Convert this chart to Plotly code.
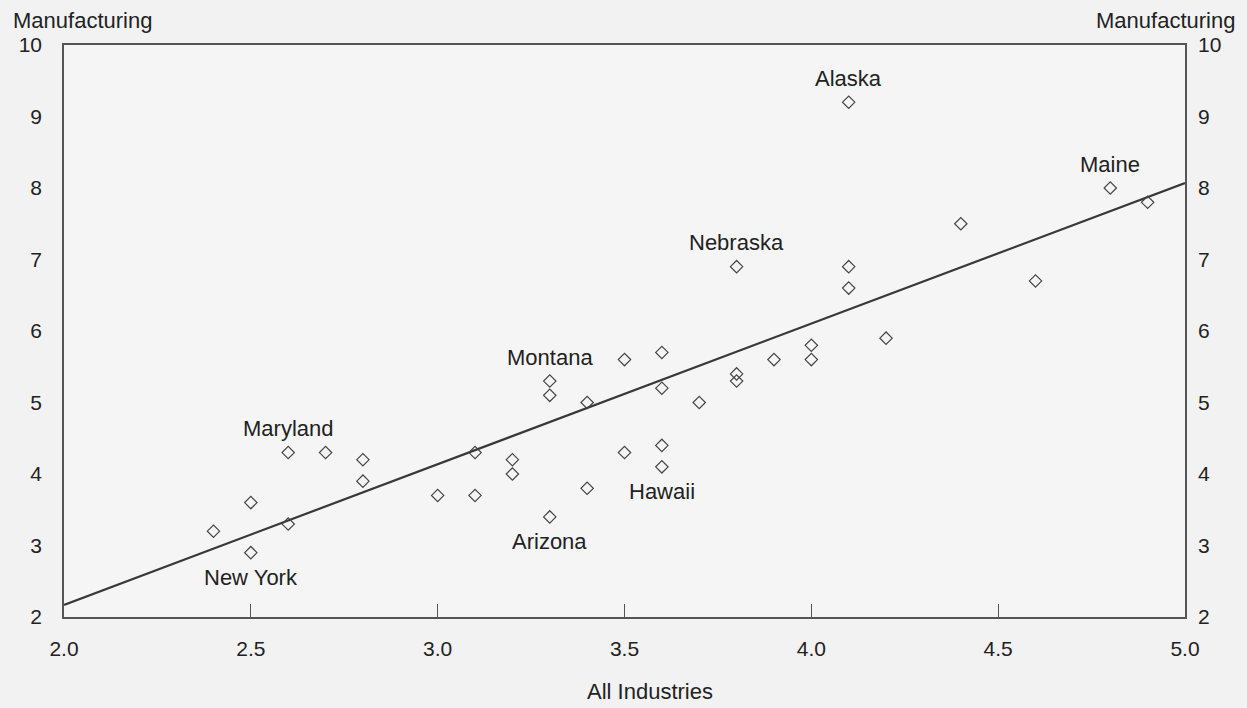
import plotly.graph_objects as go

# Data
all_industries = [2.4, 2.5, 2.5, 2.6, 2.6, 2.7, 2.8, 2.8, 3.0, 3.1, 3.1, 3.2, 3.2,
                  3.3, 3.3, 3.3, 3.4, 3.4, 3.5, 3.5, 3.6, 3.6, 3.6, 3.6, 3.7, 3.8,
                  3.8, 3.8, 3.9, 4.0, 4.0, 4.1, 4.1, 4.1, 4.2, 4.4, 4.6, 4.8, 4.9]
manufacturing = [3.2, 3.6, 2.9, 4.3, 3.3, 4.3, 4.2, 3.9, 3.7, 4.3, 3.7, 4.2, 4.0,
                 5.3, 5.1, 3.4, 5.0, 3.8, 5.6, 4.3, 5.7, 5.2, 4.4, 4.1, 5.0, 6.9,
                 5.4, 5.3, 5.6, 5.8, 5.6, 9.2, 6.9, 6.6, 5.9, 7.5, 6.7, 8.0, 7.8]

label_states = ["New York", "Maryland", "Arizona", "Hawaii", "Montana", "Nebraska", "Alaska", "Maine"]
label_x = [2.5, 2.6, 3.3, 3.6, 3.3, 3.8, 4.1, 4.8]
label_y = [2.9, 4.3, 3.4, 4.1, 5.3, 6.9, 9.2, 8.0]
label_side = ["below", "above", "below", "below", "above", "above", "above", "above"]

trend_x = [2.0, 5.0]
trend_y = [2.17, 8.07]

x_ticks = [2.0, 2.5, 3.0, 3.5, 4.0, 4.5, 5.0]
y_ticks = [2, 3, 4, 5, 6, 7, 8, 9, 10]

FONT = "Liberation Sans, Arial, sans-serif"
TXT = "#222222"
BG = "#f2f2f2"

fig = go.Figure()
fig.add_trace(go.Scatter(x=trend_x, y=trend_y, mode="lines",
                         line=dict(color="#383838", width=2.2), hoverinfo="skip",
                         showlegend=False))
fig.add_trace(go.Scatter(x=all_industries, y=manufacturing, mode="markers",
                         marker=dict(symbol="diamond-open", size=9.5,
                                     color="#444444", line=dict(width=1.2, color="#444444")),
                         showlegend=False))
# invisible trace for right axis
fig.add_trace(go.Scatter(x=[2.0], y=[2], yaxis="y2", mode="markers",
                         marker=dict(opacity=0), showlegend=False, hoverinfo="skip"))

for name, x, y, side in zip(label_states, label_x, label_y, label_side):
    fig.add_annotation(x=x, y=y, text=name, showarrow=False,
                       yshift=24 if side == "above" else -25,
                       font=dict(family=FONT, size=22, color=TXT))

fig.add_annotation(xref="paper", yref="paper", x=-0.047, y=1.0, yshift=25,
                   text="Manufacturing", showarrow=False, xanchor="left", yanchor="middle",
                   font=dict(family=FONT, size=22, color=TXT))
fig.add_annotation(xref="paper", yref="paper", x=1.046, y=1.0, yshift=25,
                   text="Manufacturing", showarrow=False, xanchor="right", yanchor="middle",
                   font=dict(family=FONT, size=22, color=TXT))
fig.add_annotation(xref="paper", yref="paper", x=0.523, y=0, yshift=-74,
                   text="All Industries", showarrow=False, xanchor="center", yanchor="middle",
                   font=dict(family=FONT, size=22, color=TXT))

fig.update_layout(
    width=1247, height=708,
    margin=dict(l=64, r=62, t=45, b=91),
    paper_bgcolor=BG, plot_bgcolor="#f5f5f5",
    font=dict(family=FONT, size=21, color=TXT),
    xaxis=dict(range=[2, 5], tickvals=x_ticks, ticktext=[f"{v:.1f}" for v in x_ticks],
               showgrid=False, zeroline=False, showline=True, mirror=True,
               linecolor="#555555", linewidth=1.5, ticks="inside", ticklen=13,
               tickcolor="#555555", tickwidth=1.3, ticklabelstandoff=12,
               tickfont=dict(family=FONT, size=21, color=TXT)),
    yaxis=dict(range=[2, 10], tickvals=y_ticks, showgrid=False, zeroline=False,
               showline=True, mirror=True, linecolor="#555555", linewidth=1.5,
               ticks="", ticklabelstandoff=16,
               tickfont=dict(family=FONT, size=21, color=TXT)),
    yaxis2=dict(range=[2, 10], tickvals=y_ticks, overlaying="y", side="right",
                matches="y", showgrid=False, zeroline=False, showline=False,
                ticks="", ticklabelstandoff=12,
                tickfont=dict(family=FONT, size=21, color=TXT)),
)

fig.write_html("out.html", config={"displayModeBar": False},
               post_script="document.body.style.margin='0';document.body.style.background='%s';" % BG)
